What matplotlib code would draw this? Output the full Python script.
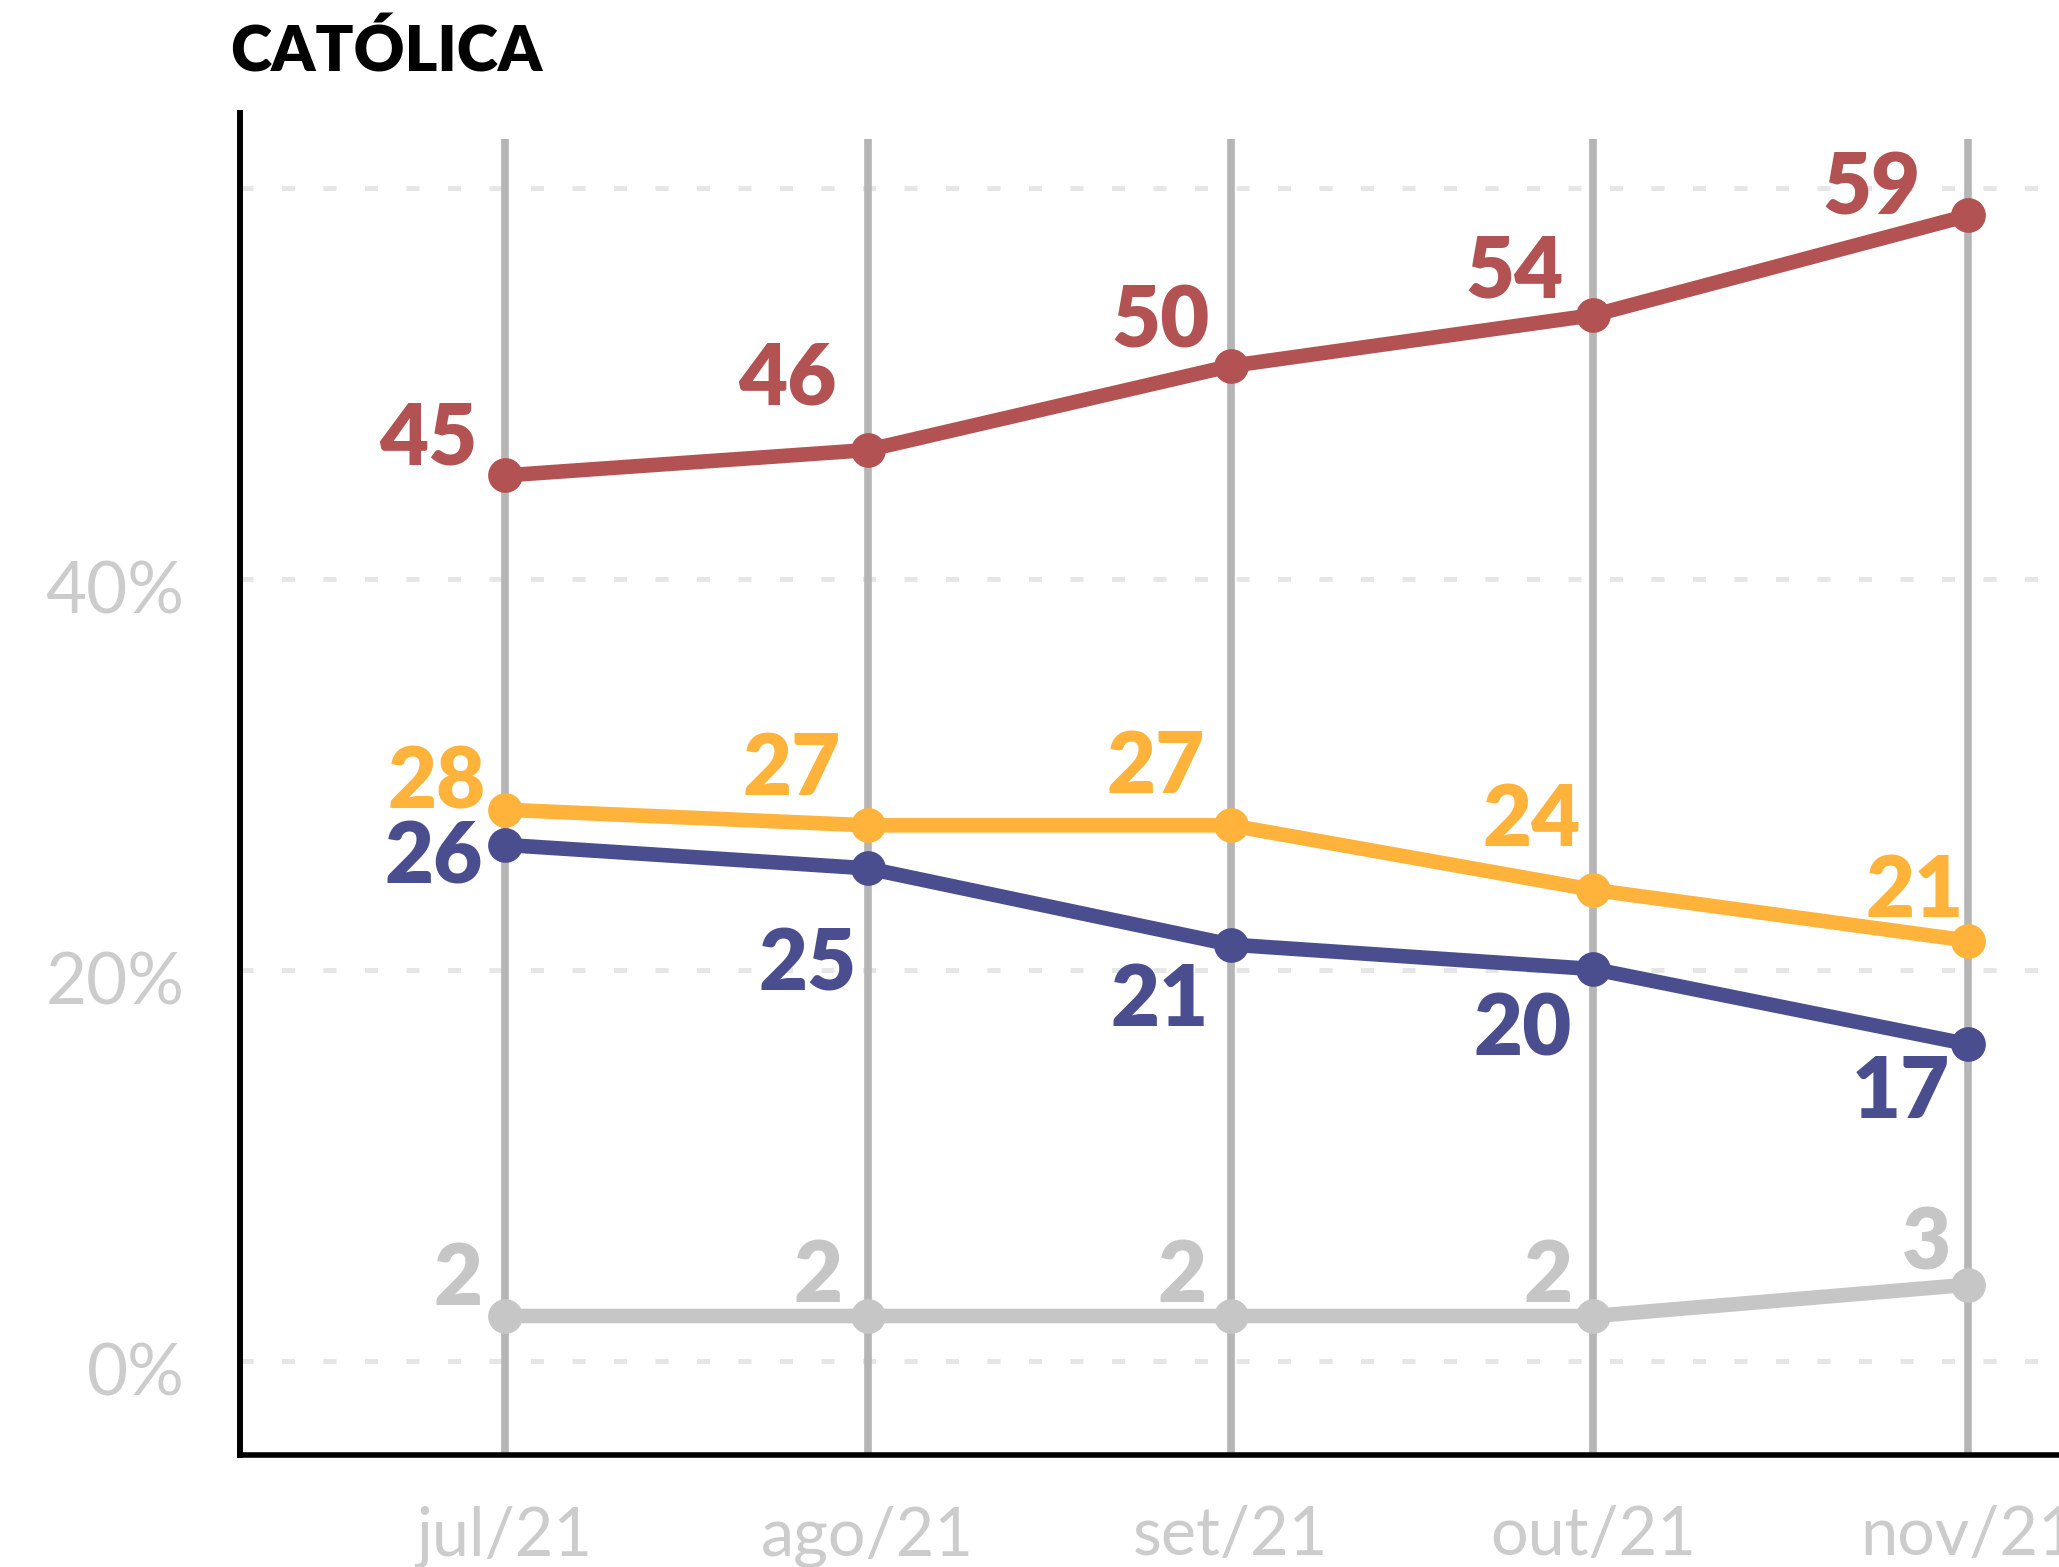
import matplotlib
matplotlib.use("Agg")
import matplotlib.pyplot as plt
import matplotlib.dates as mdates
import matplotlib.transforms as mtransforms
import numpy as np
import datetime as dt

# ---------------- data ----------------
title = "CATÓLICA"
dates = ["2021-07-07", "2021-08-06", "2021-09-05", "2021-10-05", "2021-11-05"]
month_labels = ["jul/21", "ago/21", "set/21", "out/21", "nov/21"]

red_values = [45.3, 46.6, 50.9, 53.5, 58.6]
red_labels = ["45", "46", "50", "54", "59"]
yellow_values = [28.2, 27.4, 27.4, 24.1, 21.5]
yellow_labels = ["28", "27", "27", "24", "21"]
blue_values = [26.4, 25.2, 21.3, 20.05, 16.2]
blue_labels = ["26", "25", "21", "20", "17"]
gray_values = [2.3, 2.3, 2.3, 2.3, 3.9]
gray_labels = ["2", "2", "2", "2", "3"]

y_ticks = [0, 20, 40, 60]
y_ticklabels = ["0%", "20%", "40%", ""]

# ---------------- style ----------------
RED = "#b25252"
YELLOW = "#ffb33b"
BLUE = "#4a4e8e"
GRAY = "#c6c6c6"
TICK_GRAY = "#cccccc"
VGRID = "#b5b5b5"
HGRID = "#e6e6e6"

plt.rcParams["font.family"] = ["Lato", "DejaVu Sans"]
DPI = 100
W, H = 2059, 1567
fig = plt.figure(figsize=(W / DPI, H / DPI), dpi=DPI)
ax = fig.add_axes([240 / W, 1 - 1455 / H, (W - 240) / W, (1455 - 113) / H])

x = [mdates.date2num(dt.datetime.strptime(d, "%Y-%m-%d")) for d in dates]
ax.set_xlim(x[0] - 21.9, x[-1] + 7.5)
ax.set_ylim(-4.81, 63.84)

# vertical grid lines
ax.vlines(x, -4.81, 62.5, color=VGRID, lw=5.5, zorder=1)

# horizontal dashed grid
ax.set_yticks(y_ticks)
ax.set_yticklabels(y_ticklabels)
for yv in y_ticks:
    ln = ax.axhline(yv, color=HGRID, lw=3.6, zorder=0.5)
    ln.set_dashes([2.6, 5.7])
    ln.set_dash_capstyle("butt")

ax.set_xticks(x)
ax.set_xticklabels(month_labels)
ax.tick_params(axis="both", length=0)
ax.tick_params(axis="y", pad=40, labelsize=51, labelcolor=TICK_GRAY)
ax.tick_params(axis="x", pad=36, labelsize=48, labelcolor=TICK_GRAY)
for lab in ax.get_yticklabels() + ax.get_xticklabels():
    lab.set_fontweight("normal")
offset = mtransforms.ScaledTranslation(0, -6 / 72, fig.dpi_scale_trans)
for lab in ax.get_yticklabels():
    lab.set_transform(lab.get_transform() + offset)

for s in ["top", "right"]:
    ax.spines[s].set_visible(False)
ax.spines["left"].set_linewidth(4.3)
ax.spines["bottom"].set_linewidth(4.0)
ax.spines["left"].set_color("black")
ax.spines["bottom"].set_color("black")

# label center offsets (px, up positive)
red_off = [(-77, 42), (-80, 77), (-70, 49), (-79, 49), (-97, 32)]
yellow_off = [(-68, 32), (-76, 61), (-75, 63), (-62, 75), (-54, 55)]
blue_off = [(-71, -8), (-60, -91), (-71, -50), (-71, -55), (-67, -43)]
gray_off = [(-47, 42), (-50, 45), (-48, 45), (-45, 45), (-42, 46)]

series = [
    (gray_values, gray_labels, GRAY, gray_off),
    (red_values, red_labels, RED, red_off),
    (yellow_values, yellow_labels, YELLOW, yellow_off),
    (blue_values, blue_labels, BLUE, blue_off),
]

LABEL_SIZE = 61
digit_half = 31  # px, half digit height
for vals, labs, col, offs in series:
    ax.plot(x, vals, color=col, lw=10.5, marker="o", markersize=25,
            markeredgewidth=0, zorder=3, solid_capstyle="round")
    for xi, v, t, (dx, dy) in zip(x, vals, labs, offs):
        ax.annotate(t, (xi, v), xytext=(dx * 0.72, (dy - digit_half) * 0.72),
                    textcoords="offset points", ha="center", va="baseline",
                    fontsize=LABEL_SIZE, fontweight="heavy", color=col,
                    zorder=4)

fig.text(230 / W, 1 - 71 / H, title, fontsize=45, fontweight="heavy",
         color="black", ha="left", va="baseline")

fig.savefig("out.png", dpi=DPI)
